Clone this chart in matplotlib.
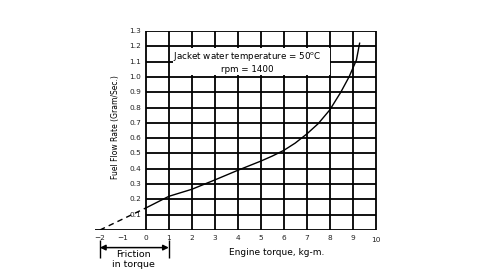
import numpy as np
import matplotlib.pyplot as plt
from matplotlib.patches import Rectangle

# values
torque = [0, 1, 2, 3, 4, 5, 5.5, 6, 6.5, 7, 7.5, 8, 8.48, 8.84, 9.16, 9.3]
fuel = [0.144, 0.22, 0.266, 0.327, 0.39, 0.45, 0.483, 0.52, 0.568, 0.627, 0.695,
        0.784, 0.9, 1.0, 1.11, 1.22]
# dashed extrapolation back to zero fuel flow
torque_ext = [-2, 0]
fuel_ext = [0, 0.144]

xticks = list(range(-2, 11))
yticks = [round(0.1 * i, 1) for i in range(1, 14)]

fig = plt.figure(figsize=(4.8, 2.7), dpi=100)
ax = fig.add_axes([93 / 480, 40 / 270, 285 / 480, 199 / 270])
ax.set_xlim(-2.3, 10.1)
ax.set_ylim(0, 1.3)
ax.axis('off')

lw = 1.3
ax.vlines(range(0, 11), 0, 1.3, color='black', lw=lw, zorder=1)
ax.hlines(yticks, 0, 10, color='black', lw=lw, zorder=1)
ax.hlines(0, -2.2, 10, color='black', lw=lw, zorder=1)

# white box behind the annotation text
ax.add_patch(Rectangle((1.17, 1.01), 6.85, 0.18, facecolor='white',
                       edgecolor='none', zorder=2))
ax.text(4.4, 1.135, 'Jacket water temperature = 50$^{\\rm o}$C', ha='center',
        va='center', fontsize=6.3, zorder=3)
ax.text(4.4, 1.05, 'rpm = 1400', ha='center', va='center', fontsize=6.3, zorder=3)

ax.plot(torque, fuel, color='black', lw=1.0, zorder=4)
ax.plot(torque_ext, fuel_ext, color='black', lw=1.0, ls=(0, (4, 3)), zorder=4)

for y in yticks:
    ax.text(-0.2, y, f'{y:.1f}', ha='right', va='center', fontsize=5.3, color='#222222')
for x in xticks:
    lab = str(x).replace('-', '\u2212')
    ax.text(x, -0.055 if x < 10 else -0.065, lab, ha='center', va='center',
            fontsize=5.3, color='#222222', clip_on=False)

ax.text(-1.3, 0.67, 'Fuel Flow Rate (Gram/Sec.)', rotation=90, ha='center',
        va='center', fontsize=5.5)
ax.text(5.7, -0.15, 'Engine torque, kg-m.', ha='center', va='center', fontsize=6.5,
        clip_on=False)

# friction in torque annotation
ax.annotate('', xy=(-2, -0.115), xytext=(1, -0.115), annotation_clip=False,
            arrowprops=dict(arrowstyle='<|-|>', color='black', lw=1.1,
                            mutation_scale=8, shrinkA=0, shrinkB=0))
ax.vlines([-2, 1], -0.065, -0.185, color='black', lw=1.0, clip_on=False)
ax.text(-0.55, -0.16, 'Friction', ha='center', va='center', fontsize=6.8, clip_on=False)
ax.text(-0.55, -0.228, 'in torque', ha='center', va='center', fontsize=6.8, clip_on=False)

fig.savefig('out.png', dpi=100)
